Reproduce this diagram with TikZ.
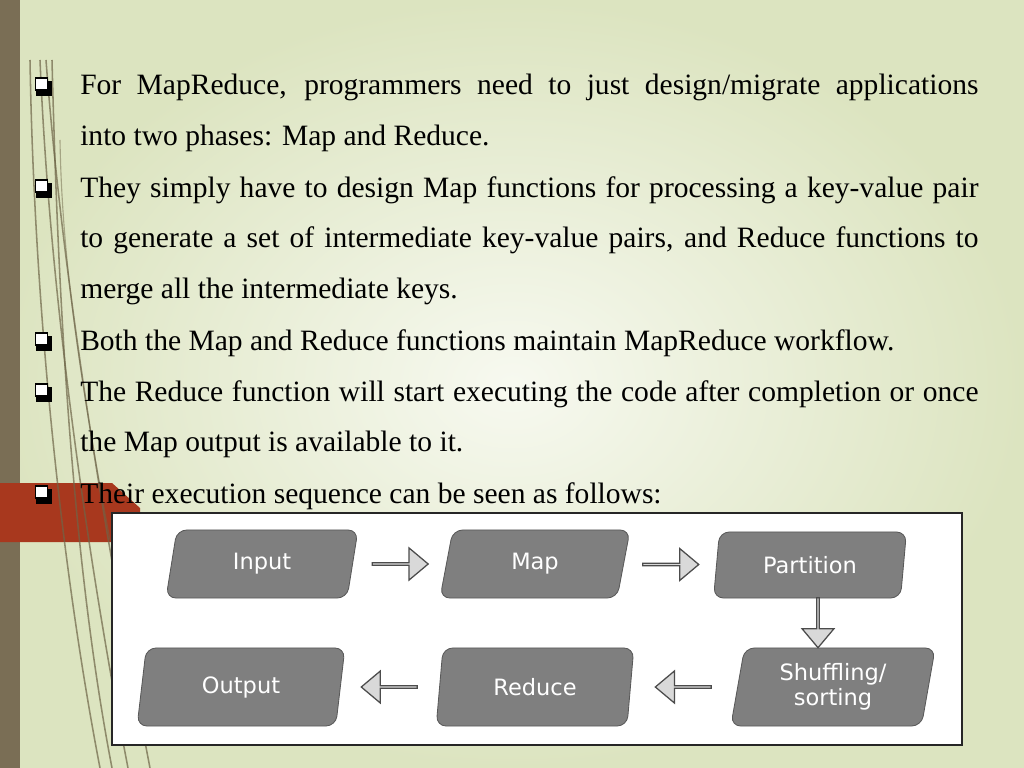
\documentclass[tikz,border=0pt]{standalone}
\usepackage{fontspec}
\setmainfont{Liberation Serif}
\newfontfamily\boxfont{DejaVu Sans}
\usetikzlibrary{shapes.geometric,shapes.arrows,calc}

\definecolor{bgpale}{HTML}{F7F9F0}
\definecolor{bgedge}{HTML}{DCE4C0}
\definecolor{stripe}{HTML}{7A6E55}
\definecolor{rust}{HTML}{A8381E}
\definecolor{boxgray}{HTML}{7F7F7F}
\definecolor{arrowfill}{HTML}{D9D9D9}
\definecolor{vine}{HTML}{6E6548}

\tikzset{
  para/.style={anchor=base west,text width=22.45cm,align=justify,inner sep=0pt,
    font=\fontsize{21}{36.2}\selectfont},
  stagebox/.style={trapezium,trapezium left angle=80,trapezium right angle=100,
    trapezium stretches=true,fill=boxgray,draw=boxgray!70!black,line width=0.6pt,
    rounded corners=7pt,text=white,font=\boxfont\fontsize{16}{18}\selectfont,
    align=center,inner sep=0pt},
  flowarrow/.style={single arrow,fill=arrowfill,draw=black!70,line width=0.9pt,
    minimum height=1.4cm,minimum width=0.8cm,single arrow head extend=0.2cm,
    inner sep=0pt,single arrow tip angle=80},
}

\begin{document}
\begin{tikzpicture}[x=0.025cm,y=-0.025cm]
    \useasboundingbox (0,0) rectangle (1024,768);
    % background
    \shade[inner color=bgpale,outer color=bgedge] (0,0) rectangle (1024,768);
    \fill[stripe] (0,0) rectangle (20,768);
    \fill[rust] (0,483) -- (112,483) -- (140,508) -- (140,542) -- (0,542) -- cycle;
    % vines
    \foreach \sx/\ex/\bend in {40/128/10,46/150/18,52/112/6,30/100/4}
      \draw[vine,line width=1.1pt,opacity=0.7] (\sx,60) .. controls (\sx+\bend,300) and (\ex-40,560) .. (\ex,768);
    \draw[vine,line width=0.8pt,opacity=0.5] (60,140) .. controls (62,260) and (80,380) .. (110,540);

    % bullet text
    \node[para] (p1) at (80,95) {For MapReduce, programmers need to just design/migrate applications\linebreak into two phases: Map and Reduce.};
    \node[para] (p2) at (80,197) {They simply have to design Map functions for processing a key-value pair\linebreak to generate a set of intermediate key-value pairs, and Reduce functions to\linebreak merge all the intermediate keys.};
    \node[para] (p3) at (80,350) {Both the Map and Reduce functions maintain MapReduce workflow.};
    \node[para] (p4) at (80,401) {The Reduce function will start executing the code after completion or once\linebreak the Map output is available to it.};
    \node[para] (p5) at (80,503) {Their execution sequence can be seen as follows:};
    \foreach \yy in {86,188,341,392,494} {
      \fill[black] (36,\yy-5) rectangle (52,\yy+10);
      \fill[white] (35.5,\yy-8) rectangle (47.5,\yy+4);
      \draw[black,line width=1pt] (35.5,\yy-8) rectangle (47.5,\yy+4);
    }

    % flow panel
    \draw[fill=white,draw=black!85,line width=1.2pt] (112,513) rectangle (962,745);
    \node[stagebox,minimum width=4.8cm,minimum height=1.7cm] (input) at (262,564) {Input};
    \node[stagebox,minimum width=4.75cm,minimum height=1.7cm] (map) at (535,564) {Map};
    \node[stagebox,minimum width=4.85cm,minimum height=1.65cm] (partition) at (810,565) {Partition};
    \node[stagebox,minimum width=5.2cm,minimum height=1.95cm] (output) at (241,687) {Output};
    \node[stagebox,minimum width=4.95cm,minimum height=1.95cm] (reduce) at (535,687) {Reduce};
    \node[stagebox,minimum width=5.15cm,minimum height=1.95cm] (shuffle) at (833,687) {Shuffling/\\sorting};

    \node[flowarrow] (a1) at ($(input.east)!0.5!(map.west)$) {};
    \node[flowarrow] (a2) at ($(map.east)!0.5!(partition.west)$) {};
    \node[flowarrow,shape border rotate=270,minimum height=1.25cm] (a3) at (818,622) {};
    \node[flowarrow,shape border rotate=180] (a4) at ($(shuffle.west)!0.5!(reduce.east)$) {};
    \node[flowarrow,shape border rotate=180] (a5) at ($(reduce.west)!0.5!(output.east)$) {};
\end{tikzpicture}
\end{document}
